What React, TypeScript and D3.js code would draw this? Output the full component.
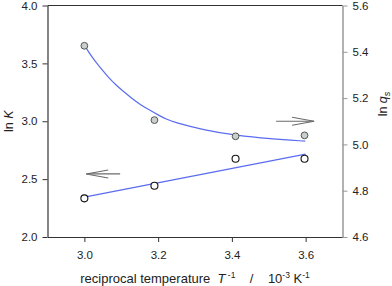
import React, { useEffect, useRef } from 'react';
import * as d3 from 'd3';

// measured points
const invT = [3.0, 3.19, 3.41, 3.597];
const lnK = [2.334, 2.443, 2.676, 2.676];
const lnQs = [5.426, 5.105, 5.035, 5.039];

// fitted lines
const fitKx = [3.0, 3.6];
const fitKy = [2.345, 2.716];
const fitQx = [3.0, 3.018, 3.041, 3.064, 3.086, 3.109, 3.131, 3.154, 3.177, 3.2, 3.222, 3.245, 3.322, 3.413, 3.503, 3.599];
const fitQy = [5.429, 5.382, 5.335, 5.292, 5.256, 5.225, 5.196, 5.17, 5.148, 5.127, 5.109, 5.095, 5.063, 5.038, 5.024, 5.014];

// arrows pointing at the relevant axis: [x0, x1, y]
const arrowK = [3.097, 3.005, 2.545];
const arrowQ = [3.52, 3.623, 5.1];

const xTicks = [3.0, 3.2, 3.4, 3.6];
const kTicks = [2.0, 2.5, 3.0, 3.5, 4.0];
const qTicks = [4.6, 4.8, 5.0, 5.2, 5.4, 5.6];

const Chart: React.FC = () => {
  const svgRef = useRef<SVGSVGElement>(null);

  useEffect(() => {
    if (!svgRef.current) return;
    const svg = d3.select(svgRef.current);
    svg.selectAll('*').remove();

    const left = 47.5, right = 342.5, top = 5.5, bottom = 237;
    const font = 'Liberation Sans, Arial, sans-serif';
    const txt = '#222';

    const x = d3.scaleLinear().domain([2.9, 3.7]).range([left, right]);
    const yK = d3.scaleLinear().domain([2.0, 4.0]).range([bottom, top]);
    const yQ = d3.scaleLinear().domain([4.6, 5.6]).range([bottom, top]);

    // frame
    svg.append('line').attr('x1', left).attr('x2', right).attr('y1', top).attr('y2', top)
      .attr('stroke', '#333').attr('stroke-width', 1.2);

    const bAxis = svg.append('g').attr('transform', `translate(0,${bottom})`)
      .call(d3.axisBottom(x).tickValues(xTicks).tickSize(5).tickSizeOuter(0).tickFormat(d3.format('.1f')));
    bAxis.select('.domain').attr('stroke', '#333').attr('stroke-width', 1.2);
    bAxis.selectAll('line').attr('stroke', '#333');
    bAxis.selectAll('text').attr('font-family', font).attr('font-size', 11.5).attr('fill', txt).attr('dy', '1.2em');

    const lAxis = svg.append('g').attr('transform', `translate(${left},0)`)
      .call(d3.axisLeft(yK).tickValues(kTicks).tickSize(5).tickSizeOuter(0).tickFormat(d3.format('.1f')));
    lAxis.select('.domain').attr('stroke', '#333').attr('stroke-width', 1.2);
    lAxis.selectAll('line').attr('stroke', '#333');
    lAxis.selectAll('text').attr('font-family', font).attr('font-size', 11.5).attr('fill', txt).attr('x', -10);

    const rAxis = svg.append('g').attr('transform', `translate(${right},0)`)
      .call(d3.axisRight(yQ).tickValues(qTicks).tickSize(5).tickSizeOuter(0).tickFormat(d3.format('.1f')));
    rAxis.select('.domain').attr('stroke', '#999').attr('stroke-width', 1.5);
    rAxis.selectAll('line').attr('stroke', '#999');
    rAxis.selectAll('text').attr('font-family', font).attr('font-size', 11.5).attr('fill', txt).attr('x', 10);

    // fitted lines
    const lineK = d3.line<number>().x((_, i) => x(fitKx[i])).y(d => yK(d));
    svg.append('path').attr('d', lineK(fitKy) || '').attr('fill', 'none')
      .attr('stroke', '#5a6cf0').attr('stroke-width', 1.2);
    const lineQ = d3.line<number>().x((_, i) => x(fitQx[i])).y(d => yQ(d)).curve(d3.curveBasis);
    svg.append('path').attr('d', lineQ(fitQy) || '').attr('fill', 'none')
      .attr('stroke', '#5a6cf0').attr('stroke-width', 1.2);

    // markers
    svg.append('g').selectAll('circle').data(lnQs).join('circle')
      .attr('cx', (_, i) => x(invT[i])).attr('cy', d => yQ(d)).attr('r', 3.4)
      .attr('fill', '#c9cfcf').attr('stroke', '#555').attr('stroke-width', 1);
    svg.append('g').selectAll('circle').data(lnK).join('circle')
      .attr('cx', (_, i) => x(invT[i])).attr('cy', d => yK(d)).attr('r', 3.5)
      .attr('fill', '#fff').attr('stroke', '#111').attr('stroke-width', 1.1);

    // arrows
    const drawArrow = (x0: number, x1: number, y: number) => {
      const dir = Math.sign(x1 - x0);
      const g = svg.append('g').attr('stroke', '#6a6a6a').attr('stroke-width', 1.1).attr('fill', 'none');
      g.append('line').attr('x1', x0).attr('x2', x1).attr('y1', y).attr('y2', y);
      g.append('path').attr('d', `M${x1 - dir * 22},${y - 4}L${x1},${y}L${x1 - dir * 22},${y + 4}`);
    };
    drawArrow(x(arrowK[0]), x(arrowK[1]), yK(arrowK[2]));
    drawArrow(x(arrowQ[0]), x(arrowQ[1]), yQ(arrowQ[2]));

    // axis titles
    const lt = svg.append('text').attr('transform', `translate(13,${(top + bottom) / 2}) rotate(-90)`)
      .attr('text-anchor', 'middle').attr('font-family', font).attr('font-size', 12.5).attr('fill', txt);
    lt.append('tspan').text('ln ');
    lt.append('tspan').attr('font-style', 'italic').text('K');

    const rt = svg.append('text').attr('transform', `translate(387,104) rotate(-90)`)
      .attr('text-anchor', 'middle').attr('font-family', font).attr('font-size', 12.5).attr('fill', txt);
    rt.append('tspan').text('ln ');
    rt.append('tspan').attr('font-style', 'italic').text('q');
    rt.append('tspan').attr('font-style', 'italic').attr('font-size', 9).attr('dy', 3).text('s');

    const bt = svg.append('text').attr('x', 195).attr('y', 283).attr('text-anchor', 'middle')
      .attr('font-family', font).attr('font-size', 13).attr('fill', txt).style('white-space', 'pre');
    bt.append('tspan').text('reciprocal temperature  ');
    bt.append('tspan').attr('font-style', 'italic').text('T');
    bt.append('tspan').attr('font-size', 8.5).attr('dy', -5).text(' -1');
    bt.append('tspan').attr('dy', 5).text('    /    10');
    bt.append('tspan').attr('font-size', 8.5).attr('dy', -5).text('-3');
    bt.append('tspan').attr('dy', 5).text(' K');
    bt.append('tspan').attr('font-size', 8.5).attr('dy', -5).text('-1');
  }, []);

  return (
    <svg ref={svgRef} width={392} height={286}
      style={{ position: 'absolute', left: 0, top: 0, background: '#fff' }} />
  );
};

export default function App() {
  return <Chart />;
}
